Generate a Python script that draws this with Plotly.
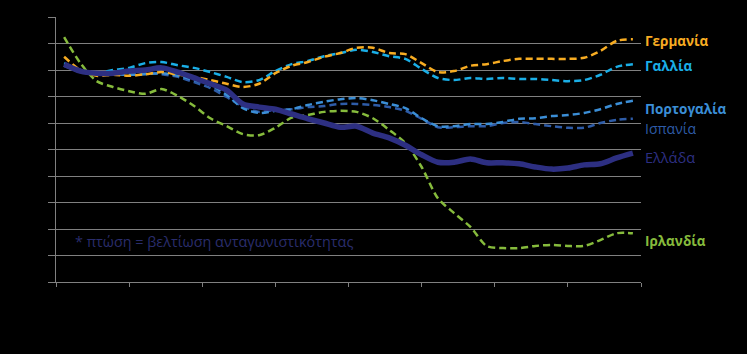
import plotly.graph_objects as go

quarters = list(range(36))

germany = [112.5, 110.0, 108.9, 109.1, 108.9, 109.2, 109.6, 109.1, 108.7, 108.1, 107.4, 106.8,
           107.4, 109.4, 110.8, 111.5, 112.5, 113.2, 114.2, 114.2, 113.2, 113.0, 111.3, 109.6,
           109.8, 110.8, 111.1, 111.7, 112.1, 112.1, 112.1, 112.1, 112.3, 113.6, 115.5, 115.8]
france = [111.3, 110.0, 109.4, 110.0, 110.4, 111.3, 111.5, 110.9, 110.4, 109.6, 108.7, 107.7,
          108.1, 109.8, 111.1, 111.7, 112.6, 113.2, 113.8, 113.4, 112.6, 112.1, 110.2, 108.5,
          108.1, 108.5, 108.3, 108.5, 108.3, 108.3, 108.1, 107.9, 108.1, 109.1, 110.6, 111.1]
portugal = [110.9, 109.8, 109.2, 109.2, 109.1, 109.2, 109.4, 108.9, 108.1, 107.2, 105.3, 102.8,
            101.9, 102.3, 102.6, 103.4, 104.0, 104.5, 104.7, 104.3, 103.6, 102.8, 100.9, 99.4,
            99.4, 99.8, 99.8, 100.2, 100.8, 100.9, 101.3, 101.5, 101.9, 102.6, 103.6, 104.2]
spain = [110.8, 109.6, 109.2, 109.2, 109.2, 109.4, 109.2, 108.7, 107.7, 106.6, 104.9, 103.2,
         102.1, 102.5, 102.6, 103.0, 103.2, 103.6, 103.6, 103.4, 103.0, 102.3, 100.8, 99.2,
         99.2, 99.4, 99.4, 100.0, 100.2, 99.8, 99.4, 99.1, 99.1, 100.0, 100.6, 100.8]
greece = [111.1, 109.8, 109.4, 109.4, 109.8, 110.0, 110.4, 109.6, 108.5, 107.4, 106.2, 103.6,
          103.0, 102.6, 101.7, 100.8, 100.0, 99.2, 99.4, 98.1, 97.2, 95.8, 94.0, 92.6,
          92.6, 93.2, 92.5, 92.5, 92.3, 91.7, 91.3, 91.5, 92.1, 92.3, 93.4, 94.3]
ireland = [116.2, 111.3, 107.9, 106.8, 106.0, 105.5, 106.4, 105.1, 103.2, 100.9, 99.4, 97.9,
           97.7, 99.1, 101.0, 101.5, 102.1, 102.3, 102.1, 100.9, 98.7, 96.2, 91.7, 85.8,
           83.0, 80.4, 76.8, 76.4, 76.4, 76.8, 77.0, 76.8, 76.8, 77.9, 79.2, 79.2]

names = ["Γερμανία", "Γαλλία", "Πορτογαλία", "Ισπανία", "Ελλάδα", "Ιρλανδία"]
label_y = [0.909, 0.815, 0.651, 0.583, 0.472, 0.155]
note = "* πτώση = βελτίωση ανταγωνιστικότητας"

series = [germany, france, portugal, spain, greece, ireland]
colors = ["#f7ac22", "#1aaee6", "#3b8ed6", "#2e5ca8", "#2d2f82", "#86bb3c"]
widths = [2.5, 2.5, 2.5, 2.5, 5.5, 2.5]
dashes = ["7px,4px", "7px,4px", "7px,4px", "7px,4px", "solid", "7px,4px"]
bold = [True, True, True, False, False, True]
lsize = [13.5, 13.5, 13.5, 14, 14.5, 13.5]

fig = go.Figure()
order = [5, 3, 2, 1, 0, 4]
for i in order:
    fig.add_trace(go.Scatter(
        x=quarters, y=series[i], mode="lines", name=names[i],
        line=dict(color=colors[i], width=widths[i], dash=dashes[i], shape="spline", smoothing=0.8),
        showlegend=False, hoverinfo="skip"))

for i, n in enumerate(names):
    txt = "<b>" + n + "</b>" if bold[i] else n
    fig.add_annotation(x=1.005, y=label_y[i], xref="paper", yref="paper", text=txt,
                       showarrow=False, xanchor="left", yanchor="middle", height=16,
                       borderpad=0,
                       font=dict(family="Open Sans", size=lsize[i], color=colors[i]))

fig.add_annotation(x=0.029, y=0.151, xref="paper", yref="paper", text=note,
                   showarrow=False, xanchor="left", yanchor="middle",
                   font=dict(family="Open Sans", size=14.4, color="#2a2d6c"))

xt = [-0.5 + 4.5 * k for k in range(9)]
fig.update_layout(
    width=747, height=354,
    margin=dict(l=56, r=106, t=17, b=72),
    paper_bgcolor="black", plot_bgcolor="black",
    xaxis=dict(range=[-0.5, 35.5], tickvals=xt, ticktext=[""] * 9, showgrid=False,
               showline=True, linecolor="#808080", linewidth=1, ticks="outside",
               tickcolor="#808080", ticklen=4, zeroline=False, fixedrange=True),
    yaxis=dict(range=[70, 120], tickvals=[70 + 5 * k for k in range(11)], ticktext=[""] * 11,
               showgrid=True, gridcolor="#808080", gridwidth=1,
               showline=True, linecolor="#808080", linewidth=1, ticks="outside",
               tickcolor="#808080", ticklen=7, zeroline=False, fixedrange=True),
)

fig.write_html("out.html")
